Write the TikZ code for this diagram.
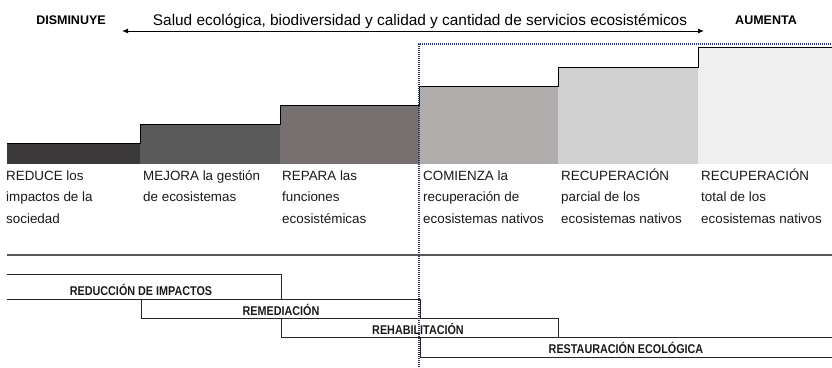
\documentclass[tikz,border=0pt]{standalone}
\usepackage{fontspec}
\setmainfont{Liberation Sans}
\newfontfamily\condfont[FakeStretch=0.85]{Liberation Sans}
\usetikzlibrary{arrows.meta}
\definecolor{stepA}{HTML}{3B393A}
\definecolor{stepB}{HTML}{5B5A5A}
\definecolor{stepC}{HTML}{767170}
\definecolor{stepD}{HTML}{B0ACAB}
\definecolor{stepE}{HTML}{D1D0D1}
\definecolor{stepF}{HTML}{EFEFEF}
\definecolor{navydot}{HTML}{27376B}
\newcommand\threelines[3]{\vtop{\baselineskip=21.5pt\hbox{#1}\hbox{#2}\hbox{#3}}}
\tikzset{
  headbold/.style={font=\fontsize{12.5}{14}\selectfont\bfseries, inner sep=0pt, anchor=base},
  bodytext/.style={font=\fontsize{13.4}{21.5}\selectfont, inner sep=0pt, anchor=base west, text=black!90},
  phaselabel/.style={font=\condfont\fontsize{12.7}{14}\selectfont\bfseries, inner sep=0pt, anchor=base, text=black!90},
  phaseline/.style={draw=black!85, line width=0.9pt},
  stairline/.style={draw=black, line width=1pt},
}
\begin{document}
\begin{tikzpicture}[x=1pt,y=-1pt]
\useasboundingbox (0,0) rectangle (832,367);
% header
\node[headbold] (dis) at (71,24) {DISMINUYE};
\node[headbold] (aum) at (766,24) {AUMENTA};
\node[font=\fontsize{15.4}{18}\selectfont, inner sep=0pt, anchor=base] (title) at (420,25) {Salud ecológica, biodiversidad y calidad y cantidad de servicios ecosistémicos};
\coordinate (arrL) at (122,31);
\coordinate (arrR) at (704,31);
\draw[line width=1pt, {Latex[length=6pt,width=5pt]}-{Latex[length=6pt,width=5pt]}] (arrL) -- (arrR);
% steps
\fill[stepA] (7,143) rectangle (140,164);
\fill[stepB] (140,124) rectangle (280,164);
\fill[stepC] (280,105) rectangle (419,164);
\fill[stepD] (419,86) rectangle (558,164);
\fill[stepE] (558,67) rectangle (698,164);
\fill[stepF] (698,47) rectangle (832,164);
\draw[stairline] (7,143) -- (140,143) -- (140,124) -- (280,124) -- (280,105) -- (419,105) -- (419,86) -- (558,86) -- (558,67) -- (698,67) -- (698,47) -- (832,47);
% column texts
\node[bodytext] (c1) at (6,180) {\threelines{REDUCE los}{impactos de la}{sociedad}};
\node[bodytext] (c2) at (143,180) {\threelines{MEJORA la gestión}{de ecosistemas}{}};
\node[bodytext] (c3) at (282,180) {\threelines{REPARA las}{funciones}{ecosistémicas}};
\node[bodytext] (c4) at (423,180) {\threelines{COMIENZA la}{recuperación de}{ecosistemas nativos}};
\node[bodytext] (c5) at (561,180) {\threelines{RECUPERACIÓN}{parcial de los}{ecosistemas nativos}};
\node[bodytext] (c6) at (701,180) {\threelines{RECUPERACIÓN}{total de los}{ecosistemas nativos}};
% separator
\draw[draw=black!65, line width=1.5pt] (7,255) -- (832,255);
% phases
\draw[phaseline] (7,274) -- (281,274) -- (281,299) -- (7,299);
\draw[phaseline] (141,299) rectangle (420,318);
\draw[phaseline] (281,318) rectangle (558,337);
\draw[phaseline] (832,337) -- (420,337) -- (420,357) -- (832,357);
\node[phaselabel] (p1) at (141,295) {REDUCCIÓN DE IMPACTOS};
\node[phaselabel] (p2) at (281,315) {REMEDIACIÓN};
\node[phaselabel] (p3) at (418,334) {REHABILITACIÓN};
\node[phaselabel] (p4) at (626,353) {RESTAURACIÓN ECOLÓGICA};
% dotted frame
\draw[navydot, line width=1.6pt, dash pattern=on 1pt off 1pt] (419,367) -- (419,44) -- (832,44);
\end{tikzpicture}
\end{document}
